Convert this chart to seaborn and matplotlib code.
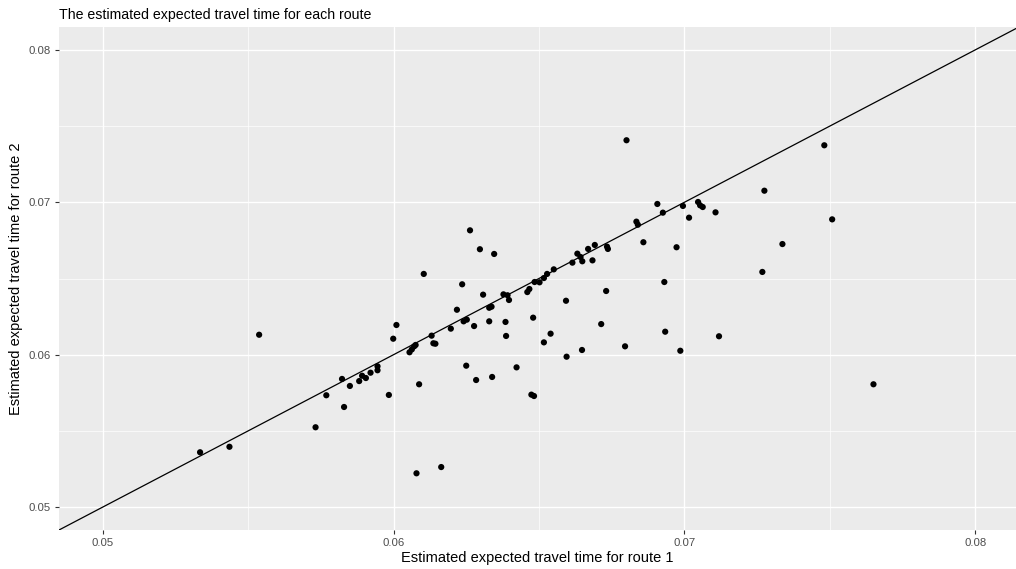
import numpy as np
import pandas as pd
import matplotlib
matplotlib.use("Agg")
import matplotlib.pyplot as plt
import seaborn as sns

# estimated expected travel times, one point per route pair
route1 = [0.05335, 0.05436, 0.05538, 0.05732, 0.05769, 0.05830, 0.05823, 0.05850, 0.05882, 0.05892,
          0.05905, 0.05921, 0.05945, 0.05945, 0.05984, 0.05999, 0.06010, 0.06055, 0.06063, 0.06071,
          0.06076, 0.06088, 0.06079, 0.06164, 0.06131, 0.06137, 0.06144, 0.06197, 0.06218, 0.06236,
          0.06241, 0.06252, 0.06277, 0.06250, 0.06284, 0.06104, 0.06263, 0.06297, 0.06346, 0.06308,
          0.06329, 0.06337, 0.06329, 0.06339, 0.06378, 0.06392, 0.06397, 0.06385, 0.06387, 0.06423,
          0.06460, 0.06467, 0.06480, 0.06485, 0.06502, 0.06517, 0.06528, 0.06551, 0.06474, 0.06483,
          0.06517, 0.06540, 0.06593, 0.06595, 0.06615, 0.06632, 0.06643, 0.06649, 0.06669, 0.06692,
          0.06684, 0.06648, 0.06714, 0.06731, 0.06734, 0.06737, 0.06796, 0.06835, 0.06840, 0.06859,
          0.06926, 0.06931, 0.06934, 0.06973, 0.06986, 0.07016, 0.06801, 0.07481, 0.07275, 0.07508,
          0.07337, 0.07268, 0.06995, 0.07047, 0.07054, 0.07063, 0.07107, 0.06907, 0.07119, 0.07650]
route2 = [0.05360, 0.05396, 0.06131, 0.05524, 0.05734, 0.05657, 0.05841, 0.05795, 0.05827, 0.05862,
          0.05847, 0.05882, 0.05924, 0.05898, 0.05736, 0.06105, 0.06195, 0.06016, 0.06035, 0.06055,
          0.06064, 0.05806, 0.05222, 0.05263, 0.06125, 0.06075, 0.06072, 0.06171, 0.06295, 0.06462,
          0.06219, 0.06230, 0.06188, 0.05928, 0.05834, 0.06530, 0.06816, 0.06692, 0.06661, 0.06394,
          0.06308, 0.06315, 0.06219, 0.05854, 0.06396, 0.06390, 0.06359, 0.06215, 0.06123, 0.05917,
          0.06411, 0.06431, 0.06243, 0.06477, 0.06475, 0.06503, 0.06530, 0.06560, 0.05738, 0.05729,
          0.06081, 0.06138, 0.06354, 0.05987, 0.06604, 0.06663, 0.06641, 0.06613, 0.06694, 0.06720,
          0.06619, 0.06031, 0.06201, 0.06418, 0.06709, 0.06694, 0.06055, 0.06873, 0.06853, 0.06738,
          0.06932, 0.06477, 0.06151, 0.06705, 0.06026, 0.06899, 0.07407, 0.07374, 0.07076, 0.06888,
          0.06726, 0.06543, 0.06976, 0.07002, 0.06980, 0.06969, 0.06934, 0.06989, 0.06121, 0.05806]

major_ticks = [0.05, 0.06, 0.07, 0.08]
minor_ticks = [0.055, 0.065, 0.075]
tick_labels = ["0.05", "0.06", "0.07", "0.08"]

df = pd.DataFrame({"route1": route1, "route2": route2})

sns.set_theme(style="darkgrid", rc={
    "axes.facecolor": "#EBEBEB",
    "grid.color": "white",
    "axes.edgecolor": "#EBEBEB",
})
plt.rcParams["font.family"] = ["Liberation Sans", "DejaVu Sans"]

fig, ax = plt.subplots(figsize=(10.16, 5.69), dpi=100)
fig.subplots_adjust(left=59/1016, right=1.0, top=1-27/569, bottom=1-530/569)

sns.scatterplot(data=df, x="route1", y="route2", ax=ax, s=20, color="black",
                edgecolor="none", linewidth=0, zorder=3)
ax.axline((0.05, 0.05), (0.08, 0.08), color="black", linewidth=0.9, zorder=4)

ax.set_xlim(0.0485, 0.0814)
ax.set_ylim(0.0485, 0.0815)
ax.set_xticks(major_ticks)
ax.set_xticklabels(tick_labels)
ax.set_yticks(major_ticks)
ax.set_yticklabels(tick_labels)
ax.set_xticks(minor_ticks, minor=True)
ax.set_yticks(minor_ticks, minor=True)

ax.grid(which="major", color="white", linewidth=1.0)
ax.grid(which="minor", color="white", linewidth=0.5)
ax.set_axisbelow(True)
for sp in ax.spines.values():
    sp.set_visible(False)

ax.tick_params(axis="both", which="major", length=2.8, width=0.8, color="#333333",
               labelsize=8.2, labelcolor="#4D4D4D", pad=3, bottom=True, left=True)
ax.tick_params(axis="both", which="minor", length=0)

ax.set_xlabel("Estimated expected travel time for route 1", fontsize=10.5, color="black", labelpad=2)
ax.set_ylabel("Estimated expected travel time for route 2", fontsize=10.5, color="black", labelpad=4)
ax.set_title("The estimated expected travel time for each route", fontsize=10.2,
             loc="left", pad=6, color="black")

fig.savefig("out.png", dpi=100)
